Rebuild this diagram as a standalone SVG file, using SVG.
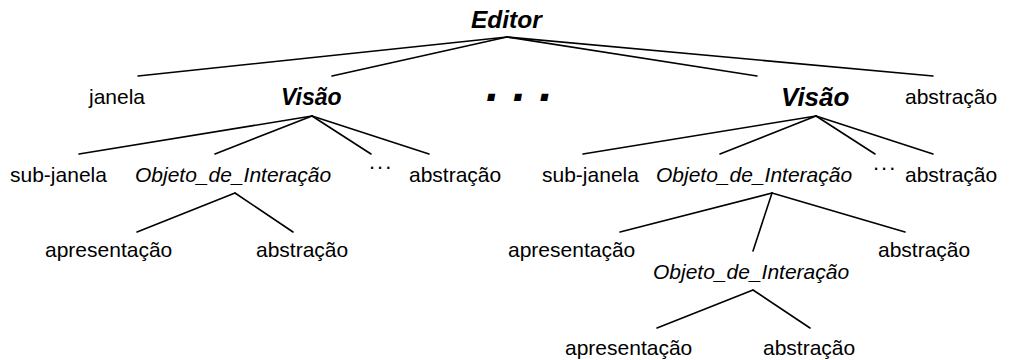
<svg xmlns="http://www.w3.org/2000/svg" width="1013" height="360" viewBox="0 0 1013 360">
  <style>
    .t { font-family: "Liberation Sans", Arial, sans-serif; font-size: 21px; fill: #000; }
    .i { font-style: italic; }
    .b { font-weight: bold; font-style: italic; }
    .dots { font-size: 22px; letter-spacing: 2px; }
    .edge { stroke: #000; stroke-width: 1.6; fill: none; stroke-linecap: round; }
  </style>
  <rect width="1013" height="360" fill="#fff"/>

  <!-- tree edges -->
  <g id="connectors">
    <!-- Editor -->
    <line class="edge" x1="507" y1="37" x2="138" y2="76"/>
    <line class="edge" x1="507" y1="37" x2="332" y2="76"/>
    <line class="edge" x1="507" y1="37" x2="757" y2="76"/>
    <line class="edge" x1="507" y1="37" x2="933" y2="76"/>
    <!-- left Visão -->
    <line class="edge" x1="312" y1="116" x2="79" y2="154"/>
    <line class="edge" x1="312" y1="116" x2="215" y2="154"/>
    <line class="edge" x1="312" y1="116" x2="371" y2="154"/>
    <line class="edge" x1="312" y1="116" x2="429" y2="154"/>
    <!-- right Visão -->
    <line class="edge" x1="816" y1="116" x2="583" y2="154"/>
    <line class="edge" x1="816" y1="116" x2="720" y2="154"/>
    <line class="edge" x1="816" y1="116" x2="875" y2="154"/>
    <line class="edge" x1="816" y1="116" x2="933" y2="154"/>
    <!-- left Objeto_de_Interação -->
    <line class="edge" x1="235" y1="193" x2="137" y2="232"/>
    <line class="edge" x1="235" y1="193" x2="293" y2="232"/>
    <!-- right Objeto_de_Interação -->
    <line class="edge" x1="772" y1="193" x2="620" y2="232"/>
    <line class="edge" x1="772" y1="193" x2="753" y2="251"/>
    <line class="edge" x1="772" y1="193" x2="905" y2="232"/>
    <!-- nested Objeto_de_Interação -->
    <line class="edge" x1="753" y1="290" x2="657" y2="328"/>
    <line class="edge" x1="753" y1="290" x2="810" y2="328"/>
  </g>

  <g id="editor"><text class="t b" x="471" y="28" style="font-size:24.5px">Editor</text></g>

  <g id="janela"><text class="t" x="89" y="104">janela</text></g>
  <g id="visao-1"><text class="t b" x="281" y="105" style="font-size:23px">Visão</text></g>
  <g id="more-views"><text class="t b" x="486" y="101" style="font-size:48px">. . .</text></g>
  <g id="visao-2"><text class="t b" x="781" y="106" style="font-size:26px">Visão</text></g>
  <g id="abstracao-editor"><text class="t" x="905" y="104">abstração</text></g>

  <g id="sub-janela-1"><text class="t" x="10" y="182">sub-janela</text></g>
  <g id="objeto-1"><text class="t i" x="135" y="182">Objeto_de_Interação</text></g>
  <g id="ellipsis-1"><text class="t dots" x="369" y="169">...</text></g>
  <g id="abstracao-visao-1"><text class="t" x="409" y="182">abstração</text></g>

  <g id="sub-janela-2"><text class="t" x="542" y="182">sub-janela</text></g>
  <g id="objeto-2"><text class="t i" x="656" y="182">Objeto_de_Interação</text></g>
  <g id="ellipsis-2"><text class="t dots" x="873" y="170">...</text></g>
  <g id="abstracao-visao-2"><text class="t" x="905" y="182">abstração</text></g>

  <g id="apresentacao-1"><text class="t" x="45" y="257">apresentação</text></g>
  <g id="abstracao-objeto-1"><text class="t" x="256" y="257">abstração</text></g>

  <g id="apresentacao-2"><text class="t" x="508" y="257">apresentação</text></g>
  <g id="objeto-3"><text class="t i" x="653" y="279">Objeto_de_Interação</text></g>
  <g id="abstracao-objeto-2"><text class="t" x="878" y="257">abstração</text></g>

  <g id="apresentacao-3"><text class="t" x="565" y="355">apresentação</text></g>
  <g id="abstracao-objeto-3"><text class="t" x="763" y="355">abstração</text></g>
</svg>
